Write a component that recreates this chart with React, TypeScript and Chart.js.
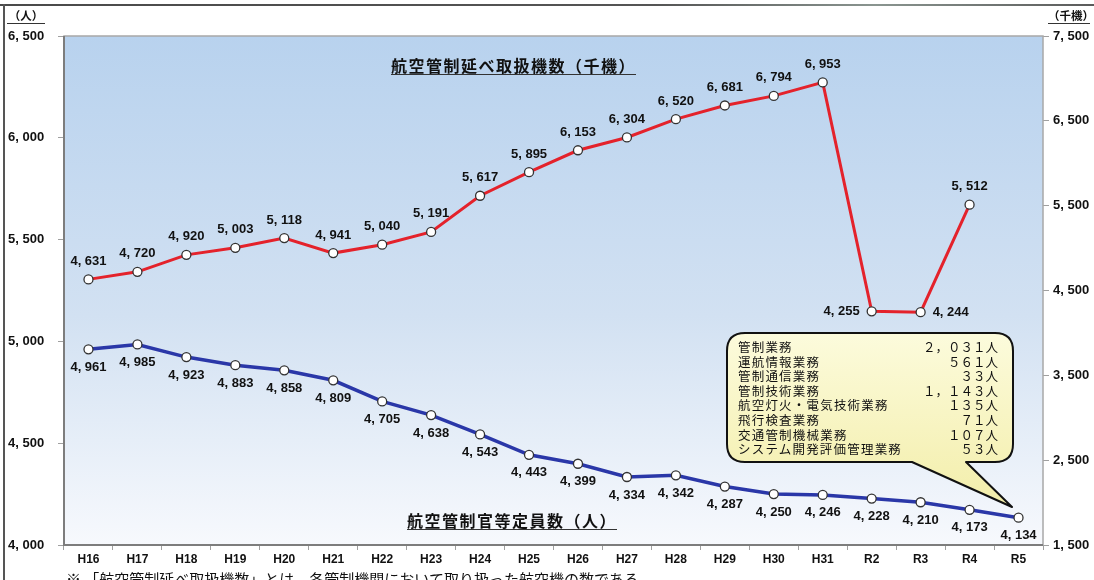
import React, { useEffect, useRef } from "react";
import { Chart, registerables } from "chart.js";

Chart.register(...registerables);

const categories = ["H16", "H17", "H18", "H19", "H20", "H21", "H22", "H23", "H24", "H25", "H26", "H27", "H28", "H29", "H30", "H31", "R2", "R3", "R4", "R5"];
const movements: (number | null)[] = [4631, 4720, 4920, 5003, 5118, 4941, 5040, 5191, 5617, 5895, 6153, 6304, 6520, 6681, 6794, 6953, 4255, 4244, 5512, null];
const staff: number[] = [4961, 4985, 4923, 4883, 4858, 4809, 4705, 4638, 4543, 4443, 4399, 4334, 4342, 4287, 4250, 4246, 4228, 4210, 4173, 4134];
const leftMin = 4000;
const leftMax = 6500;
const leftStep = 500;
const rightMin = 1500;
const rightMax = 7500;
const rightStep = 1000;
const breakdownNames = ["管制業務", "運航情報業務", "管制通信業務", "管制技術業務", "航空灯火・電気技術業務", "飛行検査業務", "交通管制機械業務", "システム開発評価管理業務"];
const breakdownValues = ["２，０３１人", "５６１人", "３３人", "１，１４３人", "１３５人", "７１人", "１０７人", "５３人"];

const fmt = (v: number) => Math.round(v).toLocaleString("en-US").replace(",", ", ");
const NUM_FONT = '"Liberation Sans", Arial, sans-serif';
const JP_FONT = '"Noto Sans CJK JP", "Noto Sans", sans-serif';

const bgPlugin = {
  id: "plotBg",
  beforeDraw(chart: any) {
    const { ctx, chartArea: a } = chart;
    ctx.save();
    const g = ctx.createLinearGradient(0, a.top, 0, a.bottom);
    g.addColorStop(0, "#b8d2ee");
    g.addColorStop(0.55, "#d2e1f2");
    g.addColorStop(1, "#f7f9fd");
    ctx.fillStyle = g;
    ctx.fillRect(a.left, a.top, a.right - a.left, a.bottom - a.top);
    ctx.restore();
  },
  beforeDatasetsDraw(chart: any) {
    const { ctx, chartArea: a } = chart;
    ctx.save();
    ctx.strokeStyle = "#a8a8a8";
    ctx.lineWidth = 1.5;
    ctx.strokeRect(a.left, a.top, a.right - a.left, a.bottom - a.top);
    ctx.strokeStyle = "#7d7d7d";
    ctx.lineWidth = 2;
    ctx.beginPath();
    ctx.moveTo(a.left, a.top);
    ctx.lineTo(a.left, a.bottom);
    ctx.lineTo(a.right, a.bottom);
    ctx.stroke();
    ctx.restore();
  },
};

const labelPlugin = {
  id: "valueLabels",
  afterDatasetsDraw(chart: any) {
    const ctx = chart.ctx;
    ctx.save();
    ctx.font = `bold 13px ${NUM_FONT}`;
    ctx.fillStyle = "#111";
    ctx.textBaseline = "middle";
    chart.data.datasets.forEach((ds: any, di: number) => {
      const meta = chart.getDatasetMeta(di);
      meta.data.forEach((pt: any, i: number) => {
        const v = ds.data[i];
        if (v == null) return;
        let x = pt.x;
        let y = pt.y;
        let align: CanvasTextAlign = "center";
        if (di === 0) {
          if (categories[i] === "R2") {
            x -= 12;
            align = "right";
          } else if (categories[i] === "R3") {
            x += 12;
            align = "left";
          } else {
            y -= 18;
          }
        } else {
          y += 18;
        }
        ctx.textAlign = align;
        ctx.fillText(fmt(v), x, y);
      });
    });
    ctx.restore();
  },
};

export default function App() {
  const ref = useRef<HTMLCanvasElement | null>(null);

  useEffect(() => {
    if (!ref.current) return;
    const tickFont = { family: NUM_FONT, size: 13, weight: "bold" as const };
    const chart = new Chart(ref.current, {
      type: "line",
      data: {
        labels: categories,
        datasets: [
          {
            label: "航空管制延べ取扱機数（千機）",
            data: movements,
            yAxisID: "y1",
            borderColor: "#e4222b",
            borderWidth: 3,
            pointRadius: 4.5,
            pointBackgroundColor: "#ffffff",
            pointBorderColor: "#333333",
            pointBorderWidth: 1.3,
            tension: 0,
            spanGaps: false,
          },
          {
            label: "航空管制官等定員数（人）",
            data: staff,
            yAxisID: "y",
            borderColor: "#2a37a8",
            borderWidth: 3.5,
            pointRadius: 4.5,
            pointBackgroundColor: "#ffffff",
            pointBorderColor: "#333333",
            pointBorderWidth: 1.3,
            tension: 0,
          },
        ],
      },
      options: {
        responsive: false,
        animation: false,
        layout: { padding: { left: 8, right: 0, top: 36, bottom: 0 } },
        plugins: {
          legend: { display: false },
          tooltip: { enabled: false },
          title: { display: false },
        },
        scales: {
          x: {
            type: "category",
            offset: true,
            grid: { offset: true, drawOnChartArea: false, drawTicks: true, tickLength: 5, color: "#a0a0a0" },
            border: { display: false },
            ticks: { font: { family: NUM_FONT, size: 12, weight: "bold" }, color: "#111", padding: 2, maxRotation: 0, autoSkip: false },
            afterFit: (s: any) => {
              s.height = 35;
            },
          },
          y: {
            type: "linear",
            position: "left",
            min: leftMin,
            max: leftMax,
            grid: { drawOnChartArea: false, drawTicks: true, tickLength: 6, color: "#a0a0a0" },
            border: { display: false },
            ticks: { stepSize: leftStep, callback: (v: any) => fmt(Number(v)), font: tickFont, color: "#111", crossAlign: "far", padding: 4 },
            afterFit: (s: any) => {
              s.width = 56;
            },
          },
          y1: {
            type: "linear",
            position: "right",
            min: rightMin,
            max: rightMax,
            grid: { drawOnChartArea: false, drawTicks: true, tickLength: 6, color: "#a0a0a0" },
            border: { display: false },
            ticks: { stepSize: rightStep, callback: (v: any) => fmt(Number(v)), font: tickFont, color: "#111", padding: 4 },
            afterFit: (s: any) => {
              s.width = 51;
            },
          },
        },
      },
      plugins: [bgPlugin, labelPlugin],
    } as any);
    return () => chart.destroy();
  }, []);

  const unitStyle: React.CSSProperties = {
    position: "absolute",
    top: 8,
    height: 15,
    fontFamily: JP_FONT,
    fontWeight: 700,
    fontSize: 11.5,
    lineHeight: "15px",
    textAlign: "center",
    borderBottom: "1.2px solid #333",
    color: "#111",
  };
  const titleStyle: React.CSSProperties = {
    position: "absolute",
    fontFamily: JP_FONT,
    fontWeight: 700,
    fontSize: 16,
    letterSpacing: 1.5,
    lineHeight: "18px",
    color: "#111",
    borderBottom: "1.5px solid #333",
    whiteSpace: "nowrap",
  };

  return (
    <div style={{ position: "absolute", left: 0, top: 0, width: 1094, height: 580, overflow: "hidden", background: "#ffffff" }}>
      <canvas ref={ref} width={1094} height={580} style={{ display: "block", position: "absolute", left: 0, top: 0 }} />
      <div style={{ position: "absolute", left: 0, top: 4, width: 1094, height: 2, background: "linear-gradient(90deg,#4a4a4a,#555 60%,#8a9590 80%,#5a5a5a)" }} />
      <div style={{ position: "absolute", left: 3, top: 4, width: 1.5, height: 576, background: "#555" }} />
      <div style={{ ...unitStyle, left: 7, width: 38 }}>（人）</div>
      <div style={{ ...unitStyle, left: 1048, width: 42 }}>（千機）</div>
      <div style={{ ...titleStyle, left: 391, top: 56 }}>航空管制延べ取扱機数（千機）</div>
      <div style={{ ...titleStyle, left: 407, top: 511 }}>航空管制官等定員数（人）</div>
      <svg width={1094} height={580} style={{ position: "absolute", left: 0, top: 0, pointerEvents: "none" }}>
        <defs>
          <linearGradient id="callFill" x1="0" y1="0" x2="0" y2="1">
            <stop offset="0" stopColor="#fcfbdc" />
            <stop offset="1" stopColor="#f3eeaa" />
          </linearGradient>
        </defs>
        <path
          d="M745 333 L995 333 Q1013 333 1013 351 L1013 444 Q1013 462 995 462 L966 462 L1012 507 L912 462 L745 462 Q727 462 727 444 L727 351 Q727 333 745 333 Z"
          fill="url(#callFill)"
          stroke="#111"
          strokeWidth={2}
          strokeLinejoin="round"
        />
      </svg>
      <div style={{ position: "absolute", left: 738, top: 340, width: 260, fontFamily: JP_FONT, fontSize: 12.5, color: "#111" }}>
        {breakdownNames.map((n, i) => (
          <div key={n} style={{ display: "flex", justifyContent: "space-between", height: 14.6, lineHeight: "14.6px", whiteSpace: "nowrap" }}>
            <span style={{ letterSpacing: 1.2 }}>{n}</span>
            <span>{breakdownValues[i]}</span>
          </div>
        ))}
      </div>
      <div style={{ position: "absolute", left: 66, top: 569, fontFamily: JP_FONT, fontSize: 15, lineHeight: "20px", color: "#111", whiteSpace: "nowrap" }}>
        ※ 「航空管制延べ取扱機数」とは、各管制機関において取り扱った航空機の数である。
      </div>
    </div>
  );
}
